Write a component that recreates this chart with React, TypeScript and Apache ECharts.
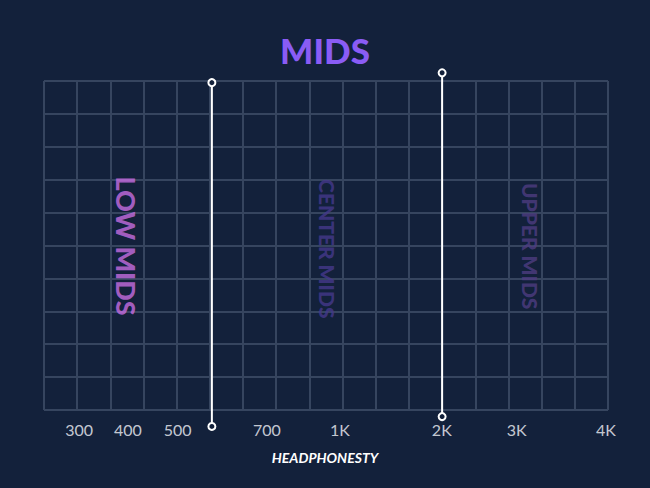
import React, { useEffect, useRef } from "react";
import * as echarts from "echarts";

// Grid: 17 columns x 10 rows (grid units)
const gridCols = 17;
const gridRows = 10;

// Frequency tick labels and their positions (in grid column units)
const tickLabels = ["300", "400", "500", "700", "1K", "2K", "3K", "4K"];
const tickPositions = [1.06, 2.53, 4.03, 6.72, 8.92, 11.99, 14.25, 16.94];

// Divider lines: [x, yTop, yBottom] in grid units
const dividerX = [5.06, 12.0];
const dividerTop = [9.95, 10.25];
const dividerBottom = [-0.5, -0.2];

// Band labels
const bandNames = ["LOW MIDS", "CENTER MIDS", "UPPER MIDS"];
const bandX = [2.5, 8.55, 14.65];
const bandY = [4.98, 4.9, 4.98];
const bandColors = ["#c96ee4", "#45398c", "#4f3d82"];
const bandSizes = [27, 21, 21];

const title = "MIDS";
const footer = "HEADPHONESTY";

export default function App() {
  const ref = useRef<HTMLDivElement>(null);
  useEffect(() => {
    if (!ref.current) return;
    const chart = echarts.init(ref.current, undefined, { renderer: "svg" });
    const dividerSeries = dividerX.map((x, i) => ({
      type: "line",
      clip: false,
      silent: true,
      data: [
        [x, dividerTop[i]],
        [x, dividerBottom[i]],
      ],
      symbol: "circle",
      symbolSize: 7,
      showSymbol: true,
      lineStyle: { color: "#ffffff", width: 2 },
      itemStyle: { color: "#13213b", borderColor: "#ffffff", borderWidth: 2 },
      z: 5,
    }));
    chart.setOption({
      animation: false,
      backgroundColor: "#13213b",
      title: {
        text: title,
        left: "center",
        top: 27,
        textStyle: {
          color: "#8a5cf5",
          fontSize: 35,
          fontWeight: 900,
          fontFamily: "Lato",
        },
      },
      grid: { left: 44, right: 42, top: 81, bottom: 78 },
      xAxis: {
        type: "value",
        min: 0,
        max: gridCols,
        interval: 1,
        axisLine: { show: false },
        axisTick: { show: false },
        axisLabel: { show: false },
        splitLine: { show: true, lineStyle: { color: "#36455f", width: 2 } },
      },
      yAxis: {
        type: "value",
        min: 0,
        max: gridRows,
        interval: 1,
        axisLine: { show: false },
        axisTick: { show: false },
        axisLabel: { show: false },
        splitLine: { show: true, lineStyle: { color: "#36455f", width: 2 } },
      },
      graphic: [
        {
          type: "text",
          left: "center",
          top: 450,
          style: {
            text: footer,
            fill: "#ffffff",
            fontSize: 14,
            fontWeight: "bold",
            fontStyle: "italic",
            fontFamily: "Lato",
          },
        },
      ],
      series: [
        ...dividerSeries,
        {
          type: "scatter",
          silent: true,
          clip: false,
          symbolSize: 0,
          data: tickPositions.map((x, i) => ({
            value: [x, -0.6],
            name: tickLabels[i],
          })),
          label: {
            show: true,
            position: "inside",
            formatter: (p: any) => p.name,
            color: "#f4f5fa",
            fontSize: 16,
            fontFamily: "Lato",
          },
        },
        {
          type: "scatter",
          silent: true,
          symbolSize: 0,
          data: bandX.map((x, i) => ({
            value: [x, bandY[i]],
            name: bandNames[i],
            label: {
              color: bandColors[i],
              fontSize: bandSizes[i],
            },
          })),
          label: {
            show: true,
            position: "inside",
            rotate: -90,
            formatter: (p: any) => p.name,
            fontWeight: 900,
            fontFamily: "Lato",
          },
          z: 3,
        },
      ],
    });
    return () => chart.dispose();
  }, []);
  return (
    <div
      ref={ref}
      style={{ position: "fixed", left: 0, top: 0, width: 650, height: 488 }}
    />
  );
}
